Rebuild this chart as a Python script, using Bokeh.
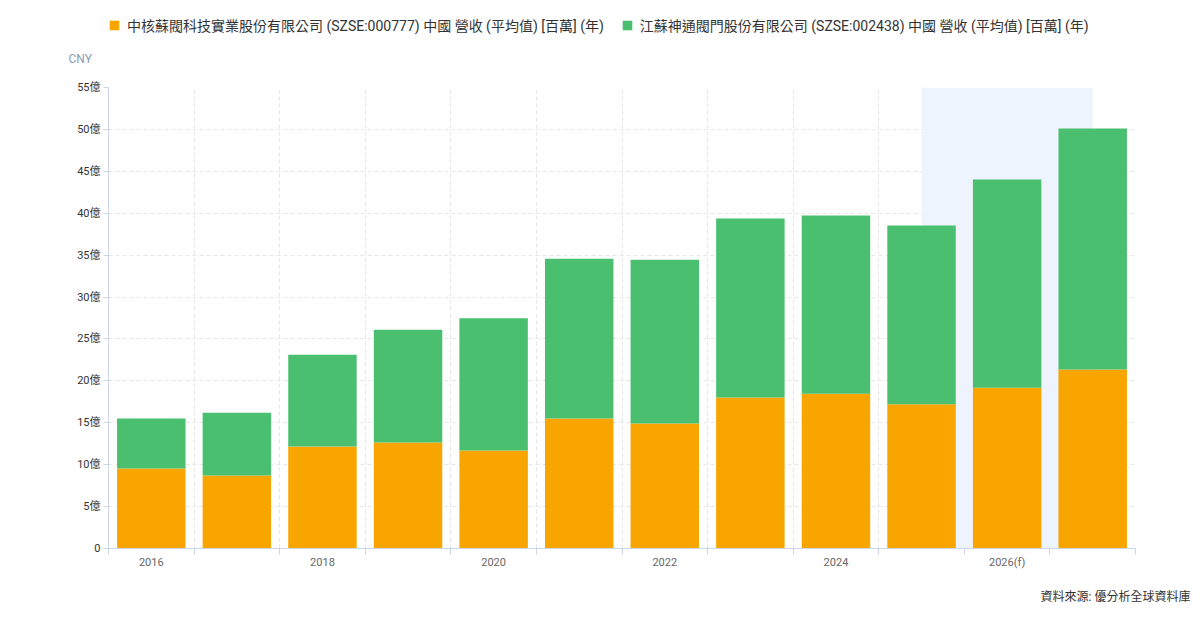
from bokeh.plotting import figure
from bokeh.layouts import column
from bokeh.models import ColumnDataSource, FixedTicker, BoxAnnotation, Title, Range1d
from bokeh.embed import file_html
from bokeh.resources import INLINE

years = [2016, 2017, 2018, 2019, 2020, 2021, 2022, 2023, 2024, 2025, 2026, 2027]
# values in 億 (100 million CNY)
zhonghe = [9.55, 8.70, 12.17, 12.65, 11.70, 15.52, 14.92, 18.02, 18.46, 17.21, 19.18, 21.36]
shentong_total = [15.52, 16.21, 23.12, 26.11, 27.47, 34.57, 34.45, 39.38, 39.74, 38.54, 44.03, 50.12]
shentong = [round(t - z, 2) for t, z in zip(shentong_total, zhonghe)]

tick_years = [2016, 2018, 2020, 2022, 2024, 2026]
tick_labels = ["2016", "2018", "2020", "2022", "2024", "2026(f)"]
y_ticks = list(range(0, 56, 5))
y_labels = ["0"] + [f"{v}億" for v in y_ticks[1:]]

legend_labels = [
    "中核蘇閥科技實業股份有限公司 (SZSE:000777) 中國 營收 (平均值) [百萬] (年)",
    "江蘇神通閥門股份有限公司 (SZSE:002438) 中國 營收 (平均值) [百萬] (年)",
]
colors = ["#f8a500", "#4bbf70"]
forecast_start, forecast_end = 2025, 2027
unit_label = "CNY"
source_note = "資料來源: 優分析全球資料庫"

FONT = "Roboto, 'Noto Sans CJK TC', sans-serif"
W = 1195
HEAD_H = 80
HEAD_FRAME_H = 51
TOTAL_H = 619
X_RANGE = (years[0] - 0.5, years[-1] + 0.5)

source = ColumnDataSource(dict(year=years, a=zhonghe, b=shentong))

# ---------- header strip holding the legend and the unit ----------
head = figure(width=W, height=HEAD_H, output_backend="svg", toolbar_location=None,
              x_range=Range1d(*X_RANGE), y_range=Range1d(0, 55),
              x_axis_type=None, y_axis_type=None, min_border_left=0, min_border_right=0,
              min_border_top=0, min_border_bottom=HEAD_H - HEAD_FRAME_H)
head.outline_line_color = None
head.grid.visible = False
legend_rs = head.vbar_stack(["a", "b"], x="year", width=0.8, color=colors, line_color=None,
                            source=source, legend_label=legend_labels)
for r in legend_rs:
    r.visible = False  # only their legend entries are shown here
lg = head.legend[0]
lg.orientation = "horizontal"
lg.location = (0, 16)
lg.border_line_alpha = 0
lg.background_fill_alpha = 0
lg.inactive_fill_alpha = 0
lg.label_text_font = FONT
lg.label_text_font_size = "14px"
lg.label_text_color = "#333333"
lg.glyph_width = 12
lg.glyph_height = 12
lg.label_standoff = 7
lg.spacing = 17
lg.padding = 0
lg.margin = 0
lg.label_height = 14
lg.click_policy = "none"

cny = Title(text=unit_label, align="left", offset=-40, standoff=0, vertical_align="top",
            text_font=FONT, text_font_size="12px", text_color="#8a9bb4",
            text_font_style="normal")
head.add_layout(cny, "below")

# ---------- main chart ----------
p = figure(width=W, height=TOTAL_H - HEAD_H, output_backend="svg", toolbar_location=None,
           x_range=Range1d(*X_RANGE), y_range=Range1d(0, 55),
           min_border_left=108, min_border_right=W - 1135,
           min_border_top=87 - HEAD_H, min_border_bottom=71)
p.outline_line_color = None
p.background_fill_color = "white"
p.border_fill_color = "white"

p.add_layout(BoxAnnotation(left=forecast_start, right=forecast_end, fill_color="#eef4fd",
                           fill_alpha=1, line_color=None, level="underlay"))

p.vbar_stack(["a", "b"], x="year", width=0.8, color=colors, line_color=None, source=source)

# x axis
boundaries = [y - 0.5 for y in years] + [years[-1] + 0.5]
xa = p.xaxis[0]
xa.ticker = FixedTicker(ticks=tick_years, minor_ticks=boundaries)
xa.major_label_overrides = {y: l for y, l in zip(tick_years, tick_labels)}
xa.major_tick_out = 0
xa.major_tick_in = 0
xa.minor_tick_out = 6
xa.minor_tick_in = 0
xa.minor_tick_line_color = "#ccd6eb"
xa.axis_line_color = "#ccd6eb"
xa.major_label_text_font = FONT
xa.major_label_text_font_size = "11px"
xa.major_label_text_color = "#666666"
xa.major_label_standoff = 1

# y axis
ya = p.yaxis[0]
ya.ticker = FixedTicker(ticks=y_ticks)
ya.major_label_overrides = {v: l for v, l in zip(y_ticks, y_labels)}
ya.major_tick_out = 5
ya.major_tick_in = 0
ya.minor_tick_out = 0
ya.minor_tick_in = 0
ya.major_tick_line_color = "#ccd6eb"
ya.axis_line_color = "#ccd6eb"
ya.major_label_text_font = FONT
ya.major_label_text_font_size = "11px"
ya.major_label_text_color = "#333333"
ya.major_label_standoff = 3

# grids
p.xgrid.ticker = FixedTicker(ticks=boundaries)
p.xgrid.grid_line_color = "#e6e6e6"
p.xgrid.grid_line_dash = "4 3"
p.ygrid.grid_line_color = "#e6e6e6"
p.ygrid.grid_line_dash = "4 3"

# bottom: source note
src = Title(text=source_note, align="right", offset=-55, standoff=32,
            text_font=FONT, text_font_size="12px", text_color="#333333",
            text_font_style="normal")
p.add_layout(src, "below")

layout = column(head, p, spacing=0)
open("out.html", "w").write(file_html(layout, INLINE))
